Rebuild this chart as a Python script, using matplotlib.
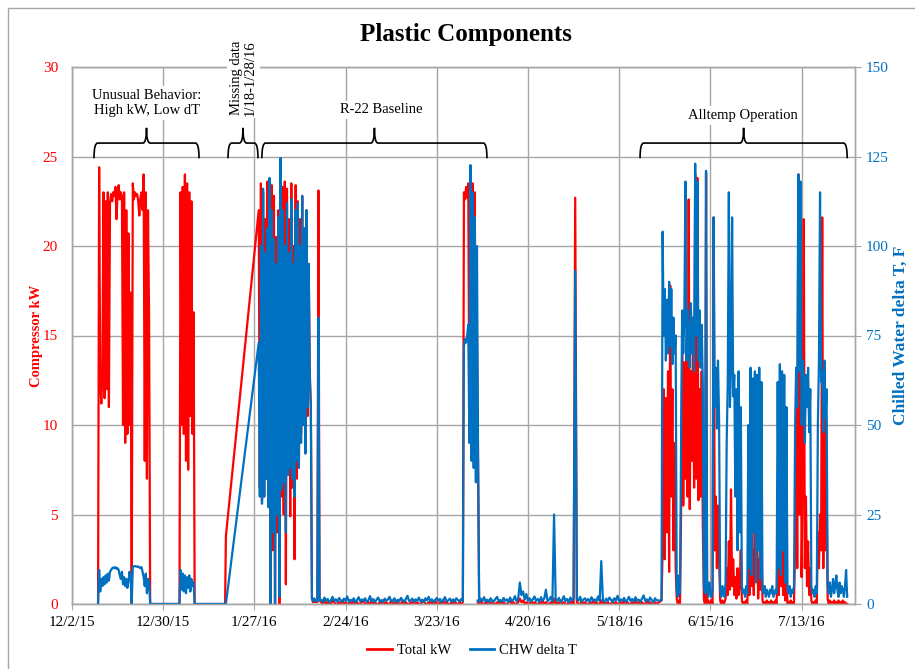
import matplotlib
matplotlib.use("Agg")
import matplotlib.pyplot as plt
import matplotlib.dates as mdates
from matplotlib.path import Path
from matplotlib.patches import PathPatch, Rectangle
import numpy as np
import pandas as pd

plt.rcParams["font.family"] = ["Liberation Serif", "DejaVu Serif"]

RED = "#FF0000"
BLUE = "#0070C0"
GRID = "#A6A6A6"
BASE = pd.Timestamp("2015-12-02")

# ---- data (kW = Total kW, dT = CHW delta T in F) ----
# Dec: unusual behaviour, 8-hourly
start_a = "2015-12-10 00:00"
kw_a = [0, 24.4, 12.5, 11.2, 13.0, 23.0, 11.5, 22.5, 12.0, 23.0,
        11.0, 22.4, 22.9, 22.5, 23.0, 22.8, 23.3, 21.5, 23.0, 23.4,
        22.6, 23.0, 22.8, 10.0, 23.0, 9.0, 22.0, 9.5, 20.7, 10.0,
        17.4, 0, 23.5, 22.6, 23.0, 22.8, 22.9, 22.5, 21.7, 22.7,
        23.0, 22.0, 24.0, 8.0, 23.0, 7.0, 22.0, 16.0, 0]
dt_a = [0, 9.5, 3.5, 7.0, 5.0, 7.5, 5.5, 8.0, 6.0, 8.5,
        6.5, 9.0, 9.5, 10.0, 10.2, 10.0, 10.3, 9.8, 10.0, 9.5,
        8.0, 7.0, 9.0, 5.5, 7.5, 5.0, 7.0, 4.5, 6.5, 9.0,
        7.0, 0, 10.5, 10.5, 10.6, 10.5, 10.4, 10.5, 10.2, 10.0,
        10.3, 9.0, 7.5, 5.0, 8.5, 3.0, 7.0, 6.0, 0]

start_b = "2016-01-04 00:00"
kw_b = [0, 23.0, 10.0, 23.3, 9.5, 24.0, 8.0, 23.5, 7.5, 23.0, 10.5, 22.5, 9.5, 16.3, 0]
dt_b = [0, 9.5, 4.0, 8.5, 3.5, 8.0, 3.0, 7.5, 4.5, 8.0, 3.5, 7.0, 5.0, 6.0, 0]

# last reading before the 1/18-1/28 gap, 6-hourly
start_g = "2016-01-18 00:00"
kw_g = [0, 3.8]
dt_g = [0, 0]

# R-22 baseline, 8-hourly
start_c = "2016-01-28 08:00"
kw_c = [22.0, 6.5, 23.5, 5.8, 23.0, 6.0, 21.5, 7.0, 23.6, 5.5,
        22.5, 0, 23.4, 3.0, 22.8, 0, 20.5, 4.0, 22.0, 0,
        21.0, 6.0, 23.3, 5.0, 23.6, 1.1, 23.2, 7.5, 21.5, 4.9,
        23.5, 6.5, 20.0, 2.5, 23.4, 7.0, 22.5, 8.0, 21.5, 9.5,
        22.8, 10.0, 21.0, 8.6, 22.0, 10.5, 19.0, 13.0, 11.0,
        0.3, 0.1, 0.2, 0.1, 0.2, 0.1, 23.1, 0.2]
dt_c = [73, 30, 100, 28, 116, 30, 98, 35, 105, 27,
        119, 0, 110, 20, 102, 0, 95, 25, 108, 2,
        124.6, 32, 110, 34, 100, 20, 112, 36, 98, 38,
        113, 35, 95, 30, 110, 40, 112, 38, 100, 45,
        114, 50, 105, 42, 110, 55, 95, 63, 55,
        1.5, 0.8, 1.6, 0.9, 1.2, 0.7, 80, 1.0]

# quiet stretch, 12-hourly
start_q1 = "2016-02-16 12:00"
kw_q1 = [0.1, 0.0, 0.2, 0.0, 0.1, 0.0, 0.0, 0.2, 0.1, 0.0,
         0.0, 0.1, 0.0, 0.2, 0.0, 0.1, 0.0, 0.0, 0.1, 0.0,
         0.2, 0.0, 0.1, 0.0, 0.0, 0.1, 0.2, 0.0, 0.0, 0.1,
         0.0, 0.2, 0.0, 0.1, 0.0, 0.0, 0.1, 0.0, 0.2, 0.0,
         0.1, 0.0, 0.0, 0.2, 0.0, 0.1, 0.0, 0.1, 0.0, 0.0,
         0.2, 0.0, 0.1, 0.0, 0.0, 0.1, 0.0, 0.2, 0.0, 0.1,
         0.0, 0.0, 0.1, 0.2, 0.0, 0.0, 0.1, 0.0, 0.1, 0.0,
         0.2, 0.0, 0.0, 0.1, 0.0, 0.2, 0.0, 0.1, 0.0, 0.0,
         0.1, 0.0, 0.2, 0.0, 0.0, 0.1, 0.0, 0.1]
dt_q1 = [1.2, 0.6, 1.8, 0.9, 1.4, 0.5, 1.1, 2.0, 0.8, 1.3,
         0.6, 1.7, 1.0, 0.7, 1.5, 0.9, 2.1, 0.6, 1.2, 0.8,
         1.6, 0.5, 1.1, 1.9, 0.7, 1.3, 0.9, 1.6, 0.6, 1.0,
         2.2, 0.8, 1.4, 0.5, 1.2, 1.8, 0.7, 1.1, 0.6, 1.5,
         0.9, 1.3, 2.0, 0.7, 1.0, 1.6, 0.5, 1.2, 0.8, 1.7,
         1.1, 0.6, 1.4, 2.3, 0.8, 1.0, 1.5, 0.6, 1.3, 0.9,
         1.8, 0.7, 1.2, 0.5, 1.6, 1.0, 2.0, 0.8, 1.3, 0.6,
         1.1, 1.7, 0.9, 1.4, 0.5, 1.2, 1.9, 0.7, 1.0, 1.5,
         0.6, 1.3, 0.8, 1.6, 1.1, 0.7, 1.4, 0.9]

start_d = "2016-03-31 08:00"
kw_d = [23.0, 22.6, 23.3, 22.7, 23.5, 10.0, 22.8, 12.0, 23.5, 9.9, 23.0, 7.6, 15.0, 8.0, 0.2]
dt_d = [72, 74, 73, 75, 78, 45, 122.6, 40, 115, 38, 108, 34, 100, 42, 1.0]

start_q2 = "2016-04-04 12:00"
kw_q2 = [0.1, 0.0, 0.2, 0.0, 0.0, 0.1, 0.0, 0.2, 0.0, 0.1,
         0.0, 0.0, 0.1, 0.0, 0.2, 0.0, 0.1, 0.0, 0.0, 0.1,
         0.2, 0.0, 0.1, 0.0, 0.0, 0.1, 0.3, 0.1, 0.2, 0.0,
         0.1, 0.0, 0.0, 0.2, 0.0, 0.1, 0.0, 0.0, 0.1, 0.0,
         0.2, 0.0, 0.1, 0.0, 0.0, 0.1, 0.0, 0.3, 0.0, 0.1,
         0.0, 0.2, 0.0, 0.1, 0.0, 0.0, 0.1, 0.0, 0.2, 0.0,
         22.7, 0.1, 0.0, 0.0, 0.2, 0.0, 0.1, 0.0, 0.0, 0.1,
         0.0, 0.2, 0.0, 0.1, 0.0, 0.0, 0.2, 0.0, 0.1, 0.0,
         0.1, 0.0, 0.0, 0.2, 0.0, 0.1, 0.0, 0.0, 0.1, 0.0,
         0.2, 0.0, 0.1, 0.0, 0.0, 0.1, 0.0, 0.2, 0.0, 0.1,
         0.0, 0.1, 0.0, 0.0, 0.2, 0.0, 0.1, 0.0, 0.0, 0.1,
         0.0]
dt_q2 = [1.0, 0.6, 1.5, 0.8, 1.9, 0.7, 1.2, 0.5, 1.6, 1.0,
         0.7, 1.4, 2.0, 0.8, 1.1, 0.6, 1.7, 0.9, 1.3, 0.5,
         1.8, 0.8, 1.2, 2.2, 0.7, 1.5, 6.0, 2.5, 3.5, 1.2,
         2.8, 0.9, 1.6, 0.7, 1.3, 2.1, 0.8, 1.4, 0.6, 1.9,
         1.0, 1.5, 4.0, 0.8, 1.2, 2.0, 0.7, 25.0, 1.3, 0.9,
         1.7, 0.6, 1.1, 2.2, 0.8, 1.4, 0.5, 1.8, 1.0, 1.3,
         93.0, 1.5, 0.9, 2.0, 0.7, 1.2, 1.6, 0.8, 1.4, 0.6,
         1.9, 1.0, 1.3, 0.7, 2.1, 0.9, 12.0, 1.1, 0.6, 1.5,
         0.8, 1.8, 1.2, 0.5, 1.6, 1.0, 2.3, 0.7, 1.3, 0.9,
         1.7, 0.6, 1.1, 2.0, 0.8, 1.4, 0.7, 1.9, 1.0, 1.2,
         0.6, 1.5, 2.4, 0.9, 1.3, 0.7, 1.8, 1.1, 0.5, 1.6,
         1.0]

# Alltemp operation, 8-hourly
start_e = "2016-05-31 00:00"
kw_e = [0.2, 3.0, 12.0, 2.5, 11.5, 4.0, 13.0, 1.8, 17.8,
        6.0, 12.0, 3.0, 9.0, 2.0, 0.3, 0.0, 0.2, 0.0,
        5.0, 14.0, 5.5, 13.5, 7.0, 14.2, 6.0, 22.6, 5.3,
        13.0, 8.0, 15.5, 6.5, 24.0, 7.0, 23.8, 5.8, 12.0,
        6.0, 13.0, 4.5, 0.3, 0.0, 24.1, 0.0, 0.2, 0.0,
        0.0, 0.2, 0.0, 21.6, 3.0, 6.0, 2.0, 5.5, 2.5,
        0.2, 0.0, 0.2, 0.0, 0.1, 0.3, 2.0, 0.5, 3.5,
        0.8, 6.4, 1.0, 2.5, 0.5, 1.5, 0.3, 2.0, 0.5,
        1.0, 3.0, 0.2, 0.0, 0.1, 0.0, 0.2, 0.0, 2.0,
        0.5, 4.0, 1.0, 3.0, 0.5, 7.0, 1.5, 4.5, 0.3,
        2.5, 0.8, 3.5, 0.2, 0.0, 0.1, 0.0, 0.2, 0.0,
        0.1, 0.0, 0.2, 0.0, 0.1, 0.0, 0.2, 0.0, 4.0,
        0.5, 7.5, 1.0, 4.0, 0.5, 3.5, 0.2, 2.0, 0.0,
        0.1, 0.0, 0.2, 0.0, 0.1, 0.0, 3.0, 13.0, 2.0,
        24.0, 5.0, 23.5, 1.5, 7.0, 21.5, 2.0, 6.0, 1.0,
        3.5, 0.5, 2.0, 0.2, 0.0, 0.1, 0.0, 0.2, 0.0,
        4.0, 2.0, 5.0, 3.0, 21.6, 2.0, 10.8, 3.0, 7.0,
        0.3, 0.0, 0.2, 0.0, 0.1, 0.0, 0.2, 0.0, 0.1,
        0.0, 0.2, 0.0, 0.1, 0.0, 0.2, 0.0, 0.1, 0.0,
        0.0]
dt_e = [1.0, 104, 75, 88, 68, 85, 70, 90, 72,
        88, 67, 80, 70, 75, 4, 2, 8, 3,
        45, 82, 70, 80, 118, 68, 82, 75, 66,
        84, 70, 80, 65, 123, 75, 118, 68, 82,
        66, 78, 62, 5, 3, 121, 4, 2, 6,
        3, 2, 4, 108, 55, 66, 49, 68, 52,
        4, 2, 5, 3, 2, 6, 45, 62, 115,
        55, 66, 108, 58, 64, 30, 60, 15, 65,
        20, 55, 5, 3, 4, 2, 5, 3, 50,
        10, 66, 8, 63, 20, 65, 6, 64, 15,
        66, 7, 62, 4, 3, 5, 2, 4, 3,
        2, 4, 3, 5, 2, 3, 4, 3, 62,
        10, 67, 8, 65, 15, 64, 6, 55, 4,
        3, 5, 2, 4, 3, 5, 48, 66, 55,
        120, 65, 118, 50, 68, 62, 45, 64, 55,
        66, 48, 60, 5, 3, 4, 2, 5, 3,
        50, 68, 115, 62, 65, 48, 68, 52, 60,
        5, 3, 6, 2, 4, 7, 3, 5, 8,
        4, 2, 6, 3, 5, 4, 2, 5, 9.5,
        2]

# annotation braces: (label, first day, last day) counted from 12/2/15
brace_labels = ["Unusual Behavior:\nHigh kW, Low dT", "Missing data\n1/18-1/28/16",
                "R-22 Baseline", "Alltemp Operation"]
brace_from = [6.75, 47.9, 58.3, 174.4]
brace_to = [39.0, 57.1, 127.4, 238.0]

x_ticks = pd.date_range("2015-12-02", periods=9, freq="28D")


def block(start, kw, dt, freq):
    assert len(kw) == len(dt), start
    t = pd.date_range(start, periods=len(kw), freq=freq)
    return t, np.asarray(kw, float), np.asarray(dt, float)


blocks = [block(start_a, kw_a, dt_a, "8h"), block(start_b, kw_b, dt_b, "8h"),
          block(start_g, kw_g, dt_g, "6h"), block(start_c, kw_c, dt_c, "8h"),
          block(start_q1, kw_q1, dt_q1, "12h"), block(start_d, kw_d, dt_d, "8h"),
          block(start_q2, kw_q2, dt_q2, "12h"), block(start_e, kw_e, dt_e, "8h")]
times = pd.DatetimeIndex(np.concatenate([b[0].values for b in blocks]))
kw = np.concatenate([b[1] for b in blocks])
dt = np.concatenate([b[2] for b in blocks])


def day_num(d):
    return mdates.date2num(BASE + pd.Timedelta(days=d))


def brace_path(x0, x1, y_lo=24.9, y_mid=25.75, y_hi=26.6, r=1.1):
    a, b = day_num(x0), day_num(x1)
    c = (a + b) / 2
    verts = [(a, y_lo), (a, y_mid), (a + r, y_mid),
             (c - r, y_mid), (c, y_mid), (c, y_hi),
             (c, y_mid), (c + r, y_mid),
             (b - r, y_mid), (b, y_mid), (b, y_lo)]
    codes = [Path.MOVETO, Path.CURVE3, Path.CURVE3,
             Path.LINETO, Path.CURVE3, Path.CURVE3,
             Path.CURVE3, Path.CURVE3,
             Path.LINETO, Path.CURVE3, Path.CURVE3]
    return Path(verts, codes)


W, H = 915, 669
fig = plt.figure(figsize=(W / 100, H / 100), dpi=100)
ax = fig.add_axes([72 / W, 1 - 604 / H, (855 - 72) / W, (604 - 67) / H])
ax2 = ax.twinx()

ax.plot(times, kw, color=RED, lw=1.6, label="Total kW")
ax2.plot(times, dt, color=BLUE, lw=1.6, label="CHW delta T")

ax.set_xlim(BASE, BASE + pd.Timedelta(days=240.4))
ax.set_ylim(0, 30)
ax2.set_ylim(0, 150)
ax.set_yticks(np.arange(0, 31, 5))
ax2.set_yticks(np.arange(0, 151, 25))
ax.set_xticks(x_ticks)
ax.set_xticklabels([f"{d.month}/{d.day}/{d:%y}" for d in x_ticks])

ax.grid(True, color=GRID, lw=1.0)
ax.set_axisbelow(True)
for a_ in (ax, ax2):
    for s in a_.spines.values():
        s.set_color(GRID)
        s.set_linewidth(1.0)

ax.tick_params(axis="x", length=4, color=GRID, labelsize=11, pad=5)
ax.tick_params(axis="y", length=0, labelsize=11, labelcolor=RED, pad=10)
ax2.tick_params(axis="y", length=4, color=GRID, labelsize=11, labelcolor=BLUE, pad=4)

ax.set_ylabel("Compressor kW", color=RED, fontsize=10.5, fontweight="bold", labelpad=0)
ax2.set_ylabel("Chilled Water delta T, F", color=BLUE, fontsize=12.5, fontweight="bold",
               labelpad=3)

fig.text(466 / W, 1 - 35 / H, "Plastic Components", ha="center", va="center",
         fontsize=18, fontweight="bold")

# braces and their labels, drawn on top of both series
for label, d0, d1 in zip(brace_labels, brace_from, brace_to):
    ax2.add_patch(PathPatch(brace_path(d0, d1), transform=ax.transData, fill=False,
                            edgecolor="black", lw=1.2, zorder=8, clip_on=False))

box = dict(facecolor="white", edgecolor="none", pad=2)
ax2.text(day_num(23.0), 28.0, brace_labels[0], transform=ax.transData, ha="center",
         va="center", fontsize=10.5, linespacing=1.2, bbox=box, zorder=9)
ax2.text(day_num(52.6), 29.4, brace_labels[1], transform=ax.transData, ha="center",
         va="center", rotation=90, fontsize=10.5, linespacing=1.1, multialignment="center",
         bbox=box, zorder=9, clip_on=False)
ax2.text(day_num(95.0), 27.6, brace_labels[2], transform=ax.transData, ha="center",
         va="center", fontsize=10.5, bbox=box, zorder=9)
ax2.text(day_num(206.0), 27.3, brace_labels[3], transform=ax.transData, ha="center",
         va="center", fontsize=10.5, bbox=box, zorder=9)

h1, l1 = ax.get_legend_handles_labels()
h2, l2 = ax2.get_legend_handles_labels()
leg = fig.legend(h1 + h2, l1 + l2, loc="center", bbox_to_anchor=(472 / W, 1 - 650 / H),
                 ncol=2, frameon=False, fontsize=10.5, handlelength=1.7,
                 handletextpad=0.3, columnspacing=1.3)
for ln in leg.get_lines():
    ln.set_linewidth(2.0)

fig.patches.append(Rectangle((8 / W, -0.1), 1.2, 1.1 - 8 / H, transform=fig.transFigure,
                             fill=False, edgecolor=GRID, lw=1.0))

fig.savefig("out.png", dpi=100)
